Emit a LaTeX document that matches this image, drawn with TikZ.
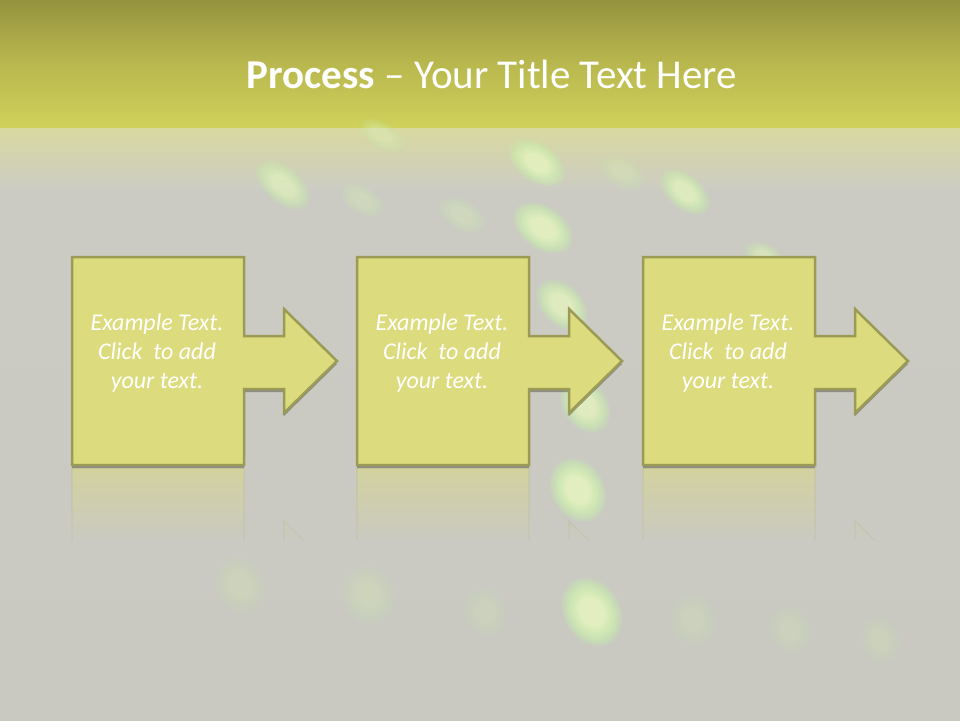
\documentclass[tikz,border=0pt]{standalone}
\usepackage{fontspec}
\setmainfont{Carlito}
\usetikzlibrary{shadows,fadings}
\definecolor{bgtop}{RGB}{148,146,62}
\definecolor{bgmid}{RGB}{184,183,78}
\definecolor{bgband}{RGB}{208,209,91}
\definecolor{bglight}{RGB}{216,217,160}
\definecolor{bggray}{RGB}{204,204,196}
\definecolor{bgbottom}{RGB}{201,201,193}
\definecolor{boxfill}{RGB}{220,219,125}
\definecolor{boxline}{RGB}{156,155,85}
\definecolor{blobgreen}{RGB}{196,242,166}
\definecolor{blobyellow}{RGB}{248,246,206}
\newcommand\myblob[6]{%
  \begin{scope}[shift={(#1,#2)}, rotate=#5]
    \foreach \k in {0,...,7}{%
      \pgfmathsetmacro\myS{1-0.08*\k}%
      \pgfmathtruncatemacro\myM{100-14*\k}%
      \fill[blobgreen!\myM!blobyellow, opacity=#6] (0,0) ellipse ({#3*\myS} and {#4*\myS});
    }
  \end{scope}}
\begin{document}
\begin{tikzpicture}[x=1pt,y=-1pt,
  procshape/.style={fill=boxfill, draw=boxline, line width=2.5pt, line join=miter,
    drop shadow={shadow xshift=0pt, shadow yshift=-3pt, opacity=0.3, fill=black}},
  reflfill/.style={fill=boxfill, opacity=0.5, path fading=south},
  refledge/.style={draw=boxline, line width=1.2pt, opacity=0.18, path fading=south},
  bodytext/.style={font=\fontsize{24}{29}\selectfont\itshape, text=white, align=center},
  titletext/.style={font=\fontsize{41}{48}\selectfont, text=white, anchor=base}]
\useasboundingbox (0,0) rectangle (960,720);
% background
\shade[top color=bggray, bottom color=bgbottom] (0,0) rectangle (960,720);
\shade[top color=bgtop, bottom color=bgmid] (0,0) rectangle (960,62);
\shade[top color=bgmid, bottom color=bgband] (0,62) rectangle (960,128.5);
\shade[top color=bglight, bottom color=bggray] (0,128) rectangle (960,190);
% blobs
\myblob{537}{163}{31}{19}{-35}{0.2}
\myblob{543}{228}{33}{21}{-35}{0.22}
\myblob{685}{192}{29}{17}{-40}{0.18}
\myblob{283}{185}{32}{18}{-40}{0.15}
\myblob{562}{305}{30}{20}{-45}{0.2}
\myblob{585}{405}{30}{22}{-55}{0.2}
\myblob{578}{490}{33}{26}{-60}{0.24}
\myblob{592}{612}{36}{28}{-60}{0.24}
\myblob{765}{258}{22}{14}{-30}{0.12}
\myblob{382}{135}{26}{13}{-30}{0.08}
\myblob{462}{215}{26}{15}{-30}{0.06}
\myblob{622}{172}{26}{15}{-30}{0.06}
\myblob{362}{200}{24}{14}{-30}{0.06}
\myblob{240}{585}{30}{25}{-70}{0.045}
\myblob{368}{595}{30}{26}{-70}{0.05}
\myblob{485}{612}{26}{22}{-70}{0.035}
\myblob{693}{620}{28}{24}{-70}{0.035}
\myblob{790}{630}{26}{22}{-70}{0.03}
\myblob{880}{640}{25}{20}{-70}{0.03}
% title
\node[titletext] (title) at (492,88) {\textbf{Process} – Your Title Text Here};
% process boxes
\foreach \i/\dx in {1/0, 2/285, 3/571}{
  \begin{scope}[shift={(\dx,0)}]
    % reflection
    \begin{scope}
      \clip (72,468) -- (244,468) -- (244,545) -- (284,545) -- (284,521) -- (337,573)
        -- (284,625) -- (284,598) -- (244,598) -- (244,677) -- (72,677) -- cycle;
      \fill[reflfill] (60,468) rectangle (350,540);
    \end{scope}
    \begin{scope}
      \clip (60,468) rectangle (350,540);
      \draw[refledge] (72,468) -- (244,468) -- (244,545) -- (284,545) -- (284,521) -- (337,573)
        -- (284,625) -- (284,598) -- (244,598) -- (244,677) -- (72,677) -- cycle;
    \end{scope}
    % shape
    \draw[procshape] (72,257) -- (244,257) -- (244,336) -- (284,336) -- (284,309) -- (337,361)
      -- (284,413) -- (284,389) -- (244,389) -- (244,465) -- (72,465) -- cycle;
    \node[bodytext] (t\i) at (157,353.5) {Example Text.\\Click~ to add\\your text.};
  \end{scope}
}
\end{tikzpicture}
\end{document}
